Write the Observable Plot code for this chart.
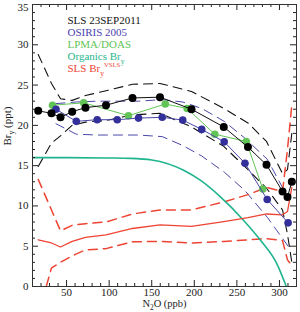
<!DOCTYPE html>
<html>
<head>
<meta charset="utf-8">
<script src="https://cdn.jsdelivr.net/npm/d3@7"></script>
<script src="https://cdn.jsdelivr.net/npm/@observablehq/plot@0.6"></script>
<style>
  html, body { margin: 0; padding: 0; background: #fff; }
  #chart { width: 300px; height: 312px; }
  #chart svg, #chart svg text, #chart svg tspan { font-family: "Liberation Serif", "Times New Roman", "DejaVu Serif", serif !important; }
</style>
</head>
<body>
<div id="chart"></div>
<script>
// SLS balloon profile of 23 Sep 2011: total Br_y and its uncertainty envelope
const slsN2O   = [16.7, 32.3, 42.9, 56.6, 72.2, 96.3, 127.4, 159.7, 196.7, 234.6, 263.0, 284.8, 303.6, 309.4, 314.5];
const slsBry   = [21.8, 21.5, 21.0, 21.7, 22.2, 22.5, 23.4, 23.5, 22.0, 19.8, 17.3, 15.1, 11.8, 11.1, 13.0];
const slsBryHi = [28.8, 25.2, 23.3, 23.1, 23.7, 24.3, 25.1, 25.2, 24.2, 22.1, 20.3, 18.0, 14.0, 14.5, 19.0];
const slsBryLo = [14.9, 17.8, 18.7, 20.0, 20.4, 20.6, 21.3, 21.5, 19.8, 17.4, 14.5, 12.2, 9.5, 6.5, 3.0];

// SLS very-short-lived contribution (Br_y^VSLS) and its envelope
const vslsBry   = [5.8, 5.4, 4.9, 5.6, 6.1, 6.4, 7.2, 7.65, 7.45, 8.05, 8.55, 9.0, 8.9, 9.3, 12.3];
const vslsBryHi = [13.3, 9.5, 6.9, 7.6, 7.8, 8.0, 9.0, 9.5, 9.5, 10.5, 11.4, 12.3, 11.8, 17.0, 22.5];
const vslsBryLo = [-3.5, 2.3, 3.0, 3.8, 4.55, 4.7, 5.55, 5.6, 5.4, 5.6, 5.8, 5.95, 5.7, 3.3, 2.6];

// OSIRIS 2005
const osirisN2O   = [37.6, 61.4, 86.0, 109.5, 134.5, 162.3, 186.4, 208.7, 235.1, 259.5, 285.6, 310.2];
const osirisBry   = [22.0, 20.5, 20.7, 20.7, 20.9, 21.0, 20.65, 19.5, 17.95, 15.3, 10.8, 7.9];
const osirisBryHi = [22.7, 22.9, 23.0, 23.0, 23.0, 23.2, 22.9, 22.1, 20.5, 18.4, 15.8, 11.0];
const osirisBryLo = [20.2, 18.9, 18.8, 18.8, 18.8, 18.6, 17.5, 16.2, 14.2, 11.9, 8.6, 5.0];

// LPMA/DOAS
const lpmaN2O = [33.5, 70.1, 122.7, 165.9, 191.6, 224.1, 261.0, 280.4];
const lpmaBry = [22.5, 22.8, 21.2, 22.65, 22.1, 18.9, 18.0, 12.1];

// Organic bromine remaining
const organicN2O = [10, 50, 100, 125, 150, 188, 207, 231, 258, 278, 297, 308];
const organicBry = [16.0, 16.0, 15.95, 15.9, 15.7, 14.4, 13.2, 11.1, 8.2, 5.7, 2.8, 0];

// Axis ticks and legend
const xTicks = [50, 100, 150, 200, 250, 300];
const yTicks = [0, 5, 10, 15, 20, 25, 30, 35];
const xMinor = d3.range(20, 320, 10).filter(v => v % 50 !== 0);
const yMinor = d3.range(1, 35, 1).filter(v => v % 5 !== 0);
const legendNames  = ["SLS 23SEP2011", "OSIRIS 2005", "LPMA/DOAS", "Organics Br_y", "SLS Br_y^VSLS"];
const legendColors = ["#111111", "#4a3fb0", "#62c456", "#1fb48e", "#ee4433"];

const W = 300, H = 312;
const margin = {top: 4, right: 4, bottom: 26, left: 32};
const frameW = W - margin.left - margin.right;
const frameH = H - margin.top - margin.bottom;
const fs = 11;
const serif = "Liberation Serif";

const pts = (xs, ys) => xs.map((x, i) => ({x, y: ys[i]}));

const black = "#111111", blue = "#34309a", blueLine = "#4a48a8", green = "#62c456", teal = "#1fb48e", red = "#ee4433";
const dash = "9,6";
const yMax = yTicks[yTicks.length - 1];

const marks = [
  // envelopes
  Plot.line(pts(slsN2O, slsBryHi), {x: "x", y: "y", stroke: black, strokeWidth: 1.1, strokeDasharray: dash, clip: true}),
  Plot.line(pts(slsN2O, slsBryLo), {x: "x", y: "y", stroke: black, strokeWidth: 1.1, strokeDasharray: dash, clip: true}),
  Plot.line(pts(osirisN2O, osirisBryHi), {x: "x", y: "y", stroke: blueLine, strokeWidth: 1, strokeDasharray: dash, clip: true}),
  Plot.line(pts(osirisN2O, osirisBryLo), {x: "x", y: "y", stroke: blueLine, strokeWidth: 1, strokeDasharray: dash, clip: true}),
  Plot.line(pts(slsN2O, vslsBryHi), {x: "x", y: "y", stroke: red, strokeWidth: 1.5, strokeDasharray: dash, clip: true}),
  Plot.line(pts(slsN2O, vslsBryLo), {x: "x", y: "y", stroke: red, strokeWidth: 1.5, strokeDasharray: dash, clip: true}),
  // organic bromine and VSLS
  Plot.line(pts(organicN2O, organicBry), {x: "x", y: "y", stroke: teal, strokeWidth: 1.6, curve: "monotone-x", clip: true}),
  Plot.line(pts(slsN2O, vslsBry), {x: "x", y: "y", stroke: red, strokeWidth: 1.3}),
  // profiles
  Plot.line(pts(lpmaN2O, lpmaBry), {x: "x", y: "y", stroke: green, strokeWidth: 1}),
  Plot.dot(pts(lpmaN2O, lpmaBry), {x: "x", y: "y", r: 3.8, fill: green, stroke: "none"}),
  Plot.line(pts(osirisN2O, osirisBry), {x: "x", y: "y", stroke: blueLine, strokeWidth: 1}),
  Plot.dot(pts(osirisN2O, osirisBry), {x: "x", y: "y", r: 3.8, fill: blue, stroke: "none"}),
  Plot.line(pts(slsN2O, slsBry), {x: "x", y: "y", stroke: black, strokeWidth: 1}),
  Plot.dot(pts(slsN2O, slsBry), {x: "x", y: "y", r: 4, fill: "#000", stroke: "none"}),
  // inward ticks on all four sides
  Plot.tickY(yMinor, {y: d => d, insetRight: frameW - 3, stroke: "#222"}),
  Plot.tickY(yMinor, {y: d => d, insetLeft: frameW - 3, stroke: "#222"}),
  Plot.tickY(yTicks, {y: d => d, insetRight: frameW - 6, stroke: "#222"}),
  Plot.tickY(yTicks, {y: d => d, insetLeft: frameW - 6, stroke: "#222"}),
  Plot.tickX(xMinor, {x: d => d, insetTop: frameH - 3, stroke: "#222"}),
  Plot.tickX(xMinor, {x: d => d, insetBottom: frameH - 3, stroke: "#222"}),
  Plot.tickX(xTicks, {x: d => d, insetTop: frameH - 6, stroke: "#222"}),
  Plot.tickX(xTicks, {x: d => d, insetBottom: frameH - 6, stroke: "#222"}),
  Plot.frame({stroke: "#333"}),
  Plot.axisX(xTicks, {tickSize: 0, tickPadding: 2, label: null, fill: "#222", fontFamily: serif, fontSize: fs}),
  Plot.axisY(yTicks.filter(v => v !== yMax), {tickSize: 0, tickPadding: 4, label: null, fill: "#222", fontFamily: serif, fontSize: fs}),
  Plot.axisY([yMax], {tickSize: 0, tickPadding: 4, label: null, dy: 3, fill: "#222", fontFamily: serif, fontSize: fs}),
  // axis titles
  Plot.text(["N_2O (ppb)"], {text: d => d, frameAnchor: "bottom", dy: 20.5, fill: "#222", fontSize: 10.5, fontFamily: serif}),
  Plot.text(["Br_y (ppt)"], {text: d => d, frameAnchor: "left", dx: -25, rotate: -90, fill: "#222", fontSize: fs, fontFamily: serif}),
  // legend
  ...legendNames.map((name, i) => Plot.text([name], {
    text: d => d, frameAnchor: "top-left", textAnchor: "start",
    dx: 35, dy: 11.7 + 12.1 * i, fill: legendColors[i], fontSize: fs, fontFamily: serif
  }))
];

const chart = Plot.plot({
  width: W, height: H,
  marginTop: margin.top, marginRight: margin.right, marginBottom: margin.bottom, marginLeft: margin.left,
  x: {domain: [10, 320]},
  y: {domain: [0, 35]},
  style: {fontFamily: serif, fontSize: fs + "px", background: "#fff"},
  marks
});
document.getElementById("chart").appendChild(chart);

// Render "_x" as subscript and "^xyz" as superscript inside text labels
(function richText(svg) {
  const NS = "http://www.w3.org/2000/svg";
  svg.querySelectorAll("text").forEach(t => {
    t.setAttribute("font-family", serif);
    const s = t.textContent;
    if (!/[_^]/.test(s)) return;
    const size = parseFloat(getComputedStyle(t).fontSize) || fs;
    const parts = s.split(/(_\w|\^\w+)/).filter(p => p !== "");
    while (t.firstChild) t.removeChild(t.firstChild);
    let shift = 0;
    parts.forEach(p => {
      let target = 0, txt = p, scale = 1;
      if (p[0] === "_") { target = 0.3 * size; txt = p.slice(1); scale = 0.7; }
      else if (p[0] === "^") { target = -0.45 * size; txt = p.slice(1); scale = 0.6; }
      const ts = document.createElementNS(NS, "tspan");
      ts.setAttribute("dy", (target - shift).toFixed(2));
      shift = target;
      if (scale !== 1) ts.setAttribute("font-size", (size * scale).toFixed(2));
      ts.textContent = txt;
      t.appendChild(ts);
    });
  });
})(chart);
</script>
</body>
</html>
